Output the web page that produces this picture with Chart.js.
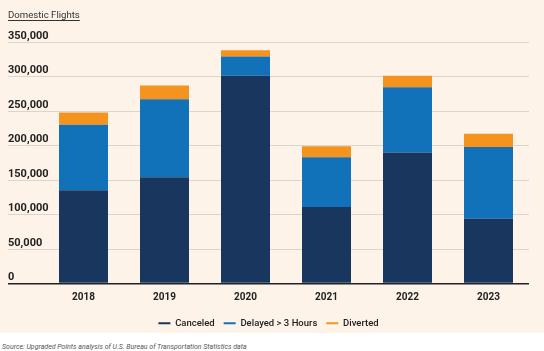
<!DOCTYPE html>
<html>
<head>
<meta charset="utf-8">
<script src="https://cdn.jsdelivr.net/npm/chart.js@4.4.1/dist/chart.umd.min.js"></script>
<style>
  html, body { margin: 0; padding: 0; background: #ffffff; width: 544px; height: 351px; overflow: hidden; }
  #panel { position: absolute; left: 0; top: 0; width: 544px; height: 333px; background: #fdf3e9; }
  #title { position: absolute; left: 8px; top: 9px; font: 400 9.6px Roboto, "Liberation Sans", sans-serif; color: #333; text-decoration: underline; text-underline-offset: 2px; }
  #source { position: absolute; left: 2px; top: 343px; font: italic 7px Roboto, "Liberation Sans", sans-serif; color: #555; }
  canvas { position: absolute; left: 0; top: 0; }
</style>
</head>
<body>
<div id="panel"></div>
<div style="position:absolute;left:0;top:0;width:544px;height:338px;"><canvas id="c" width="544" height="338"></canvas></div>
<div id="title">Domestic Flights</div>
<div id="source">Source: Upgraded Points analysis of U.S. Bureau of Transportation Statistics data</div>
<script>
const years = ["2018", "2019", "2020", "2021", "2022", "2023"];
const canceled = [135000, 154000, 301000, 111000, 190000, 94000];
const delayed = [95000, 113000, 28000, 72000, 94500, 104000];
const diverted = [18000, 20000, 9000, 16000, 16500, 19000];
const yMax = 350000;
const yStep = 50000;

const fontFam = "Roboto, 'Liberation Sans', sans-serif";

new Chart(document.getElementById('c'), {
  type: 'bar',
  data: {
    labels: years,
    datasets: [
      { label: 'Canceled', data: canceled, backgroundColor: '#18365e', borderColor: '#18365e' },
      { label: 'Delayed > 3 Hours', data: delayed, backgroundColor: '#1172b9', borderColor: '#1172b9' },
      { label: 'Diverted', data: diverted, backgroundColor: '#f5931f', borderColor: '#f5931f' }
    ]
  },
  options: {
    responsive: false,
    animation: false,
    layout: { padding: { left: 8, right: 15, top: 42, bottom: 0 } },
    datasets: { bar: { categoryPercentage: 1, barPercentage: 0.605 } },
    scales: {
      x: {
        stacked: true,
        afterFit: (s) => { s.height = 26; },
        grid: { display: false, drawTicks: false },
        border: { display: false },
        ticks: { color: '#222', font: { family: fontFam, size: 10, weight: 'bold' }, padding: 8 }
      },
      y: {
        stacked: true,
        min: 0, max: yMax,
        afterFit: (s) => { s.width = 35; },
        border: { display: false },
        grid: {
          color: (ctx) => (ctx.tick && ctx.tick.value === 0) ? '#222222' : '#dcd5cd',
          lineWidth: (ctx) => (ctx.tick && ctx.tick.value === 0) ? 1.5 : 1,
          drawTicks: true, tickLength: 35
        },
        ticks: {
          stepSize: yStep,
          mirror: true,
          padding: -35,
          labelOffset: -6,
          color: '#222',
          font: { family: fontFam, size: 11, weight: 'bold' },
          callback: (v) => v.toLocaleString('en-US')
        }
      }
    },
    plugins: {
      legend: {
        position: 'bottom',
        labels: {
          usePointStyle: true, pointStyle: 'line', pointStyleWidth: 12, boxWidth: 12, boxHeight: 9,
          color: '#222', padding: 9,
          font: { family: fontFam, size: 9.5, weight: '500' },
          generateLabels: (chart) => Chart.defaults.plugins.legend.labels.generateLabels(chart).map(l => Object.assign(l, { lineWidth: 2, strokeStyle: l.fillStyle }))
        }
      },
      tooltip: { enabled: false }
    }
  }
});
</script>
</body>
</html>
